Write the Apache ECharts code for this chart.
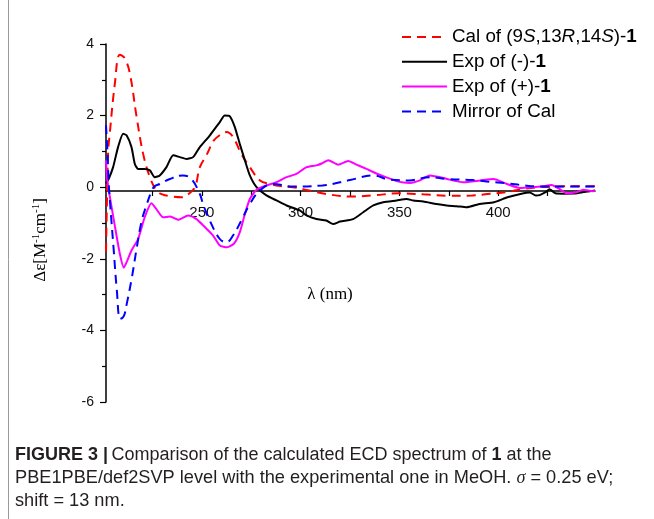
<!DOCTYPE html>
<html>
<head>
<meta charset="utf-8">
<script src="https://cdn.jsdelivr.net/npm/echarts@6/dist/echarts.min.js"></script>
<style>
html,body{margin:0;padding:0;background:#fff;}
#chart{width:654px;height:519px;}
</style>
</head>
<body>
<div id="chart"></div>
<script>
// ---- data (wavelength nm, Δε) ----
const seriesNames = ['Cal of (9S,13R,14S)-1', 'Exp of (-)-1', 'Exp of (+)-1', 'Mirror of Cal'];
const xTickValues = [225, 250, 275, 300, 325, 350, 375, 400, 425];
const xLabelValues = [250, 300, 350, 400];

const calData = [[201.5,-1.8],[201.9,-0.6],[202.6,1.0],[203.4,1.5],[206,2.9],[208.5,3.7],[211,3.6],[213.6,3.17],[217,1.96],[220.3,0.93],[223.7,0.28],[227,-0.09],[230,-0.2],[233.8,-0.25],[240,-0.28],[243,-0.2],[246.5,0],[249,0.56],[252.4,0.9],[256,1.3],[259,1.45],[262.5,1.54],[265.8,1.4],[270,0.93],[274.3,0.56],[279.4,0.19],[284.4,0.09],[290,0.03],[296,0],[305,-0.1],[313,-0.19],[325,-0.26],[336.6,-0.23],[350,-0.17],[362,-0.2],[375,-0.24],[387,-0.23],[396,-0.18],[404,-0.14],[412.5,-0.05],[421,0],[430,0.02],[440,0.03],[449,0.03]];
const expMinusData = [[201.5,0.1],[203,0.25],[205.1,0.56],[207.6,1.12],[210.2,1.49],[211.9,1.45],[214.4,1.12],[216.1,0.65],[217.8,0.51],[221.1,0.51],[223.7,0.47],[226.2,0.28],[228.7,0.33],[232.1,0.56],[235.5,0.89],[238.9,0.84],[242.3,0.79],[245.6,0.84],[249,1.12],[254.1,1.45],[259.1,1.82],[261.6,2.0],[264.2,1.98],[266.7,1.68],[269.2,1.21],[271.8,0.75],[274.3,0.33],[277.7,0],[282.7,-0.23],[287.8,-0.37],[292.9,-0.51],[299.6,-0.65],[303,-0.79],[308,-0.89],[313,-0.93],[316.5,-1.03],[320,-0.96],[326.6,-0.89],[331.7,-0.7],[336.8,-0.51],[341.8,-0.42],[348.6,-0.37],[353.6,-0.33],[357,-0.37],[362.1,-0.4],[368.8,-0.47],[373.9,-0.51],[379,-0.53],[384,-0.56],[390.5,-0.47],[397.9,-0.42],[404.7,-0.28],[411.3,-0.19],[416,-0.15],[419,-0.23],[421,-0.22],[424,-0.14],[426,-0.06],[429,-0.17],[433,-0.18],[440,-0.17],[445,-0.12],[449,-0.09]];
const expPlusData = [[201.5,0.75],[202,0.28],[202.9,-0.09],[206.1,-1.12],[208.5,-1.86],[210.5,-2.25],[211.9,-2.1],[214.4,-1.77],[217.8,-1.44],[221.1,-0.84],[224.5,-0.45],[227,-0.61],[230.4,-0.84],[234,-0.82],[238,-0.91],[243.1,-0.79],[247.3,-0.89],[250.7,-1.07],[255.7,-1.35],[259.1,-1.63],[262.8,-1.68],[266.2,-1.58],[269.2,-1.26],[271.8,-0.75],[274.3,-0.33],[277.7,-0.07],[282.7,0.05],[287.8,0.14],[292.9,0.28],[297.9,0.37],[303,0.56],[308,0.61],[311,0.67],[314,0.75],[319,0.63],[324.1,0.73],[328.3,0.63],[333.3,0.51],[338.1,0.39],[343.2,0.28],[348.6,0.17],[352,0.13],[355.4,0.12],[360.4,0.19],[365.4,0.33],[370.6,0.28],[374,0.23],[382.4,0.14],[390.9,0.19],[397.6,0.23],[404.4,0.09],[411,-0.02],[417.7,0],[422,0.02],[427,0.06],[431,-0.05],[434.6,-0.17],[439.6,-0.14],[443,-0.07],[448,-0.11],[449,-0.1]];
const mirrorData = [[201.5,1.73],[202.3,0.9],[202.8,0.19],[203.6,-0.47],[205.3,-1.68],[207,-2.89],[208.7,-3.68],[210.5,-3.6],[212,-3.26],[214.6,-2.52],[217.1,-1.68],[219.6,-0.93],[222.2,-0.47],[224.7,-0.09],[226.2,0.03],[228.7,0.09],[233.8,0.23],[240.5,0.33],[244.7,0.23],[249,-0.19],[250.6,-0.47],[254,-0.93],[259,-1.44],[262.5,-1.54],[265.8,-1.35],[270,-0.93],[274.3,-0.47],[279.4,-0.09],[286,0.09],[296,0.02],[311,0.05],[325,0.2],[337,0.33],[345,0.21],[355,0.19],[365,0.28],[374,0.23],[387,0.2],[396,0.15],[404.5,0.11],[413,0.05],[421,0.02],[430,0.02],[449,0.02]];

const chart = echarts.init(document.getElementById('chart'), null, {renderer: 'canvas'});
const sans = 'Liberation Sans, Arial, sans-serif';
const serif = 'Liberation Serif, Times New Roman, serif';

function mkSeries(name, data, color, type, smooth) {
  return {
    name: name, type: 'line', data: data, xAxisIndex: 0, yAxisIndex: 0,
    symbol: 'none', smooth: smooth, animation: false,
    lineStyle: {color: color, width: 2, type: type === 'dashed' ? [9, 6] : 'solid'},
    itemStyle: {color: color}
  };
}

const legendRich = {
  n: {fontSize: 18.8, lineHeight: 18, fontFamily: sans, color: '#000'},
  i: {fontSize: 18.8, lineHeight: 18, fontFamily: sans, fontStyle: 'italic', color: '#000'},
  b: {fontSize: 18.8, lineHeight: 18, fontFamily: sans, fontWeight: 'bold', color: '#000'}
};

const option = {
  backgroundColor: '#fff',
  animation: false,
  grid: [
    {left: 106, top: 44, width: 489, height: 358},
    {left: 106, top: 44, width: 489, height: 147}
  ],
  xAxis: [
    {gridIndex: 0, type: 'value', min: 201.5, max: 449, show: false},
    {gridIndex: 1, type: 'value', min: 201.5, max: 449, position: 'bottom',
     axisLine: {show: true, onZero: false, lineStyle: {color: '#000', width: 1.5}},
     axisTick: {show: true, inside: false, length: 5, customValues: xTickValues, lineStyle: {color: '#000', width: 1.2}},
     axisLabel: {show: true, customValues: xLabelValues, margin: 14, fontSize: 15, fontFamily: sans, color: '#111'},
     splitLine: {show: false}}
  ],
  yAxis: [
    {gridIndex: 0, type: 'value', min: -6, max: 4, interval: 2,
     axisLine: {show: true, onZero: false, lineStyle: {color: '#000', width: 1.5}},
     axisTick: {show: true, inside: false, length: 6, lineStyle: {color: '#000', width: 1.2}},
     minorTick: {show: true, splitNumber: 2, length: 4, lineStyle: {color: '#000', width: 1.2}},
     axisLabel: {margin: 12, fontSize: 14, fontFamily: sans, color: '#111'},
     splitLine: {show: false}},
    {gridIndex: 1, type: 'value', min: 0, max: 1, show: false}
  ],
  legend: {
    orient: 'vertical', left: 396, top: 22.5,
    itemWidth: 45, itemHeight: 14, itemGap: 5.8,
    itemStyle: {opacity: 0, color: 'transparent', borderWidth: 0},
    data: seriesNames,
    formatter: function (name) {
      if (name === seriesNames[0]) return '{n|Cal of (9}{i|S}{n|,13}{i|R}{n|,14}{i|S}{n|)-}{b|1}';
      if (name === seriesNames[1]) return '{n|Exp of (-)-}{b|1}';
      if (name === seriesNames[2]) return '{n|Exp of (+)-}{b|1}';
      return '{n|Mirror of Cal}';
    },
    textStyle: {rich: legendRich, fontSize: 18.8, lineHeight: 18, fontFamily: sans}
  },
  series: [
    mkSeries(seriesNames[0], calData, '#ff0000', 'dashed', 0.4),
    mkSeries(seriesNames[1], expMinusData, '#000000', 'solid', 0.2),
    mkSeries(seriesNames[2], expPlusData, '#ff00ff', 'solid', 0.2),
    mkSeries(seriesNames[3], mirrorData, '#0000ff', 'dashed', 0.4)
  ],
  graphic: [
    {type: 'line', shape: {x1: 8.5, y1: 0, x2: 8.5, y2: 519}, style: {stroke: '#9a9a9a', lineWidth: 1}},
    {type: 'text', x: 41, y: 240, rotation: Math.PI / 2,
     style: {text: '{n|Δε[M}{s|-1}{n|cm}{s|-1}{n|]}', align: 'center', verticalAlign: 'middle',
       rich: {n: {fontSize: 17, fontFamily: serif, lineHeight: 20, fill: '#000'},
              s: {fontSize: 11, fontFamily: serif, lineHeight: 12, verticalAlign: 'top', fill: '#000'}}}},
    {type: 'text', x: 330, y: 295,
     style: {text: 'λ (nm)', fontSize: 17, fontFamily: serif, align: 'center', verticalAlign: 'middle', fill: '#000'}},
    {type: 'text', x: 15, y: 455,
     style: {text: '{b|FIGURE 3 |} {n|Comparison of the calculated ECD spectrum of }{b|1}{n| at the}', align: 'left', verticalAlign: 'middle',
       rich: {b: {fontSize: 18, fontFamily: sans, fontWeight: 'bold', fill: '#231f20'},
              n: {fontSize: 18, fontFamily: sans, fill: '#231f20'}}}},
    {type: 'text', x: 15, y: 478,
     style: {text: '{n|PBE1PBE/def2SVP level with the experimental one in MeOH. }{i|σ}{n| = 0.25 eV;}', align: 'left', verticalAlign: 'middle',
       rich: {n: {fontSize: 18.2, fontFamily: sans, fill: '#231f20'},
              i: {fontSize: 18.2, fontFamily: serif, fontStyle: 'italic', fill: '#231f20'}}}},
    {type: 'text', x: 15, y: 501,
     style: {text: 'shift = 13 nm.', fontSize: 18.2, fontFamily: sans, align: 'left', verticalAlign: 'middle', fill: '#231f20'}}
  ]
};
chart.setOption(option);
</script>
</body>
</html>
